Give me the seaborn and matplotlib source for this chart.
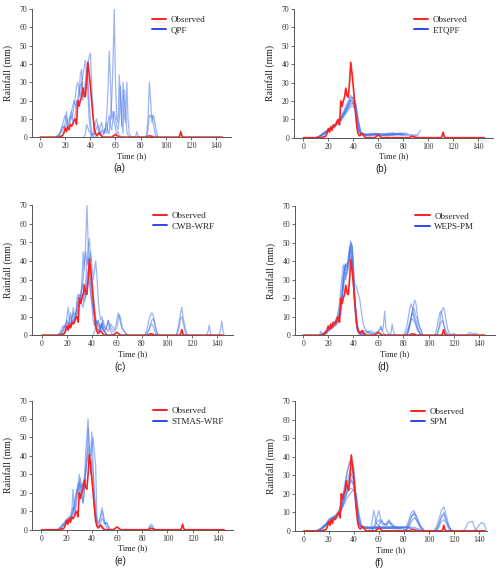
import numpy as np
import pandas as pd
import matplotlib
matplotlib.use('Agg')
import matplotlib.pyplot as plt
from matplotlib.lines import Line2D
import seaborn as sns

# ---- observed hourly rainfall (mm); zero outside these segments ----
obs_hours = np.arange(0, 146)
obs_segments = [
    (15, [0, 0.5, 0.5, 1, 2.5, 5, 3, 6, 4, 7, 6, 7, 9, 10, 7, 20, 17, 20, 22, 27,
          23, 22, 30, 41, 35, 28, 20, 12, 5, 2, 1, 1.5, 2.5, 1.5, 0.5, 0]),
    (57, [0, 0.5, 1, 1.5, 1, 0.5, 0]),
    (85, [0, 0.5, 0.8, 0.5, 0.5, 0]),
    (111, [0.5, 3, 0.5]),
]

# ---- forecast members: (start hour, values every STEP hours) ----
QPF_STEP = 1
QPF = [
    (13, [0, 0.5, 1, 2, 4, 6, 5, 8, 14, 6, 7, 9, 14, 8, 10, 12, 20, 18, 22, 35, 37, 20, 24, 28,
          33, 40, 44, 46, 30, 14, 5, 2, 1, 0]),
    (12, [0, 0.5, 1, 2, 3, 5, 7, 10, 12, 9, 7, 8, 11, 10, 13, 17, 22, 28, 30, 26, 22, 28, 34,
          38, 42, 36, 24, 10, 4, 1, 0]),
    (14, [0, 1, 2, 3, 4, 6, 5, 7, 9, 10, 12, 14, 17, 20, 18, 16, 21, 25, 28, 30, 26, 22, 30,
          38, 32, 20, 9, 3, 1, 0]),
    (35, [0, 2, 7, 5, 3, 2, 1, 2, 4, 8, 10, 5, 3, 6, 8, 4, 2, 5, 12, 25, 47, 30, 10, 14, 8, 5,
          2, 3, 1, 0.5, 0]),
    (40, [0, 1, 2, 1, 3, 5, 7, 3, 2, 4, 3, 2, 5, 8, 3, 2, 10, 20, 40, 70, 30, 10, 8, 34, 20, 6,
          30, 12, 8, 30, 10, 2, 0.5, 0]),
    (44, [0, 1, 2, 1, 3, 2, 1, 3, 5, 2, 8, 12, 6, 4, 10, 14, 10, 6, 4, 10, 28, 8, 2, 26, 15, 3,
          1, 0]),
    (74, [0, 0, 0, 3, 0.5, 0, 0, 0, 0, 0, 0, 2, 12, 30, 20, 8, 12, 10, 5, 2, 0]),
    (84, [0, 1, 5, 12, 11, 12, 8, 4, 1, 0]),
]

ETQPF_STEP = 2
ETQPF = [
    (10, [0, 0.3, 1, 2, 3, 4, 5, 6, 7, 9, 11, 14, 17, 20, 23, 21, 14, 4, 2, 1.5, 1.5, 1.5, 2, 2,
          2.5, 2, 1.5, 1.5, 1.5, 2, 2, 2.5, 2, 2, 1.5, 1.5]),
    (10, [0, 0.5, 1.5, 2.5, 3.5, 4.5, 5, 6, 7, 8, 10, 12, 15, 18, 20, 20, 16, 6, 2.5, 2, 1.5,
          1.5, 1.5, 2, 2, 2, 1.5, 1.5, 1.5, 1.5, 2, 2, 2, 2.5, 2.5, 2, 2]),
    (10, [0, 0.2, 0.8, 1.5, 2.5, 3.5, 4.5, 5.5, 6.5, 8, 9.5, 12, 14, 16, 18, 19, 18, 10, 3, 2,
          1.5, 1.5, 1.5, 1.5, 2, 2, 2, 1.5, 1, 1, 1.5, 1.5, 2, 2, 2, 1.5, 1.5, 1.5, 1.5, 1.5,
          1.5, 2, 4]),
    (10, [0, 0.4, 1.2, 2, 3, 4, 5, 6, 7.5, 9, 11, 13, 16, 19, 22, 21, 17, 8, 3, 2, 1.5, 1, 1,
          1.5, 1.5, 2, 2, 2, 2, 2, 1.5, 1.5, 1.5, 2, 2, 2.5, 2.5, 2]),
    (10, [0, 0.3, 1, 2, 3, 4, 4.5, 5.5, 7, 8.5, 10, 12, 14, 17, 19, 18, 15, 6, 2, 1.5, 1.5, 1.5,
          2, 2, 1.5, 1.5, 1.5, 1.5, 1.5, 1.5, 1.5, 2, 2, 2, 2]),
    (10, [0, 0.5, 1.5, 2.5, 3.5, 4.5, 5.5, 6.5, 8, 9.5, 11, 13, 15, 18, 21, 22, 19, 9, 3, 2, 2,
          1.5, 1.5, 1.5, 1.5, 2, 1.5, 1.5, 1.5, 1.5, 1.5, 1.5, 1.5, 1.5, 1.5, 1.5, 1.5, 1.5,
          1.5, 1, 1, 1]),
    (10, [0, 0.2, 1, 2, 3, 4, 5, 6, 7, 8, 9, 11, 13, 15, 17, 17, 15, 5, 2, 1.5, 1.5, 2, 2, 2,
          2, 2, 2, 2, 2, 2, 2, 2, 2, 2]),
    (10, [0, 0.4, 1.2, 2.2, 3.2, 4.2, 5.2, 6.2, 7.5, 9, 10.5, 12.5, 15, 17.5, 20.5, 19, 13, 5,
          2.5, 2, 2, 2, 2, 2, 1.5, 1.5, 1.5, 1.5, 2, 2.5, 2.5, 2.5, 2, 2, 2, 2]),
]

CWB_STEP = 1
CWB = [
    (12, [0, 0.5, 1, 2, 4, 5, 4, 6, 10, 15, 8, 6, 9, 12, 8, 10, 20, 22, 18, 20, 30, 45, 35, 50,
          70, 50, 35, 25, 15, 8, 5, 8, 5, 3, 2, 4, 6, 3, 2, 1, 0]),
    (14, [0, 1, 2, 3, 5, 4, 7, 6, 9, 12, 8, 15, 10, 12, 15, 20, 22, 21, 25, 30, 40, 45, 38, 48,
          52, 40, 30, 22, 15, 10, 6, 8, 5, 3, 5, 4, 2, 1, 0]),
    (13, [0, 0.5, 1, 2, 3, 5, 6, 8, 5, 7, 10, 8, 6, 9, 12, 15, 18, 20, 22, 25, 28, 24, 20, 30,
          35, 40, 45, 38, 30, 35, 40, 32, 20, 12, 8, 10, 6, 4, 3, 5, 8, 4, 2, 1, 0]),
    (15, [0, 1, 2, 3, 4, 5, 3, 5, 6, 8, 7, 9, 10, 12, 15, 17, 20, 22, 20, 18, 22, 25, 30, 28,
          22, 18, 14, 10, 8, 6, 5, 4, 6, 5, 3, 2, 1, 0]),
    (16, [0, 0.5, 1, 2, 3, 2, 4, 5, 7, 6, 8, 9, 11, 14, 18, 20, 16, 15, 22, 28, 38, 42, 35, 28,
          22, 15, 10, 5, 3, 2, 3, 5, 4, 3, 2, 1, 0]),
    (41, [0, 2, 4, 6, 8, 5, 3, 6, 8, 5, 4, 3, 2, 4, 6, 5, 4, 3, 5, 8, 12, 10, 6, 4, 3, 2, 1,
          0.5, 0]),
    (44, [0, 1, 3, 5, 7, 4, 2, 3, 5, 8, 6, 4, 3, 2, 2, 3, 4, 8, 11, 9, 5, 3, 2, 1, 0.5, 0]),
    (82, [0, 1, 3, 6, 9, 11, 12, 11, 8, 4, 1, 0]),
    (83, [0, 1, 2, 4, 6, 8, 9, 7, 4, 2, 0.5, 0]),
    (84, [0, 2, 3, 5, 6, 5, 3, 1, 0]),
    (107, [0, 1, 4, 8, 12, 15, 10, 6, 3, 1, 0]),
    (108, [0, 2, 5, 9, 10, 7, 4, 1, 0]),
    (132, [0, 2, 5.5, 1, 0]),
    (142, [0, 3, 7.5, 2, 0]),
]

WEPS_STEP = 1
WEPS = [
    (14, [0, 0.5, 1, 1.5, 2, 1, 2, 3, 3.5, 4, 5, 5, 6, 7, 8, 10, 14, 20, 28, 36, 38, 37, 40,
          46, 51, 44, 30, 18, 8, 3, 1.5, 1, 0.5, 0]),
    (16, [0, 0.5, 1, 2, 2.5, 3, 3.5, 4, 5, 6, 6, 7, 9, 12, 16, 22, 30, 38, 35, 36, 40, 45, 50,
          48, 35, 22, 12, 5, 2, 1, 0.5, 0]),
    (15, [0, 1, 1, 2, 3, 4, 4, 5, 6, 6, 7, 8, 10, 13, 18, 25, 32, 38, 36, 30, 36, 42, 48, 45,
          38, 30, 28, 27, 25, 22, 20, 15, 10, 6, 4, 3, 2, 2, 1.5, 1, 0.5, 0]),
    (14, [0, 0.5, 1, 1.5, 2, 3, 3, 4, 4, 5, 5, 6, 7, 8, 10, 12, 16, 22, 30, 36, 39, 38, 40, 45,
          50, 49, 40, 25, 10, 4, 2, 1, 0]),
    (15, [0, 0.5, 1, 2, 3, 3.5, 4, 5, 5.5, 6, 7, 8, 9, 11, 14, 18, 24, 32, 34, 33, 35, 38, 42,
          46, 44, 30, 15, 12, 6, 3, 2, 1.5, 1, 0]),
    (13, [0, 2, 0.5, 0.5, 1, 1.5, 2, 2.5, 3, 3, 4, 4, 5, 5, 6, 7, 9, 12, 18, 25, 30, 32, 33,
          36, 40, 43, 41, 32, 20, 8, 3, 2, 1.5, 1, 1, 0.5, 0]),
    (16, [0, 1, 1, 2, 3, 3, 4, 4, 5, 6, 6, 7, 8, 10, 14, 20, 27, 33, 38, 37, 39, 43, 47, 48,
          38, 22, 12, 5, 3, 2, 1.5, 1, 0.5, 0]),
    (44, [0, 1, 1.5, 2, 1.5, 1, 1, 1.5, 2, 1.5, 1, 1, 0.5, 1, 1.5, 2, 2, 3, 4, 2, 5, 13, 4, 2,
          1, 0.5, 1, 6, 2, 0.5, 0]),
    (46, [0, 1, 2, 2.5, 2, 1.5, 1, 2, 2.5, 2, 1.5, 1, 1, 1, 2, 3, 5, 3, 1, 0.5, 0]),
    (80, [0, 1, 3, 6, 10, 14, 17, 15, 12, 8, 6, 4, 2, 1, 0]),
    (83, [0, 2, 5, 9, 13, 16, 19, 17, 11, 7, 4, 3, 1, 0]),
    (82, [0, 1, 4, 7, 10, 12, 11, 9, 8, 5, 3, 1, 0]),
    (81, [0, 1, 2, 4, 6, 8, 9, 8, 7, 5, 3, 2, 1, 0]),
    (83, [0, 2, 5, 8, 12, 15, 13, 10, 9, 6, 4, 2, 0]),
    (106, [0, 1, 3, 7, 12, 14, 15, 12, 8, 4, 2, 1, 0]),
    (105, [0, 2, 5, 9, 12, 13, 10, 6, 3, 1, 0]),
    (106, [0, 1, 3, 5, 7, 8, 6, 4, 2, 1, 0]),
    (118, [0, 0.5, 1, 0.5, 0]),
    (130, [0, 0.5, 1, 1.5, 1, 1, 0.5, 1, 1, 0.5, 0]),
]

STMAS_STEP = 1
STMAS = [
    (12, [0, 0.5, 1, 1.5, 2, 3, 4, 5, 4, 6, 5, 7, 8, 22, 12, 10, 15, 24, 30, 20, 25, 22, 28,
          40, 50, 60, 45, 40, 53, 35, 20, 10, 6, 4, 5, 8, 12, 9, 5, 3, 4, 2, 1, 0.5, 0]),
    (13, [0, 0.5, 1, 2, 2.5, 3, 4, 6, 4, 5, 6, 8, 10, 14, 18, 22, 20, 23, 28, 18, 15, 22, 30,
          40, 55, 42, 35, 45, 50, 42, 35, 6, 3, 4, 6, 10, 7, 4, 2, 1, 0.5, 0]),
    (14, [0, 1, 2, 3, 2, 3, 5, 6, 7, 5, 6, 9, 12, 17, 20, 25, 22, 18, 20, 14, 20, 32, 38, 45,
          40, 30, 38, 30, 18, 8, 4, 2, 3, 4, 6, 5, 3, 4, 3, 1, 0]),
    (14, [0, 0.5, 1, 2, 3, 4, 5, 4, 6, 8, 10, 12, 8, 14, 18, 22, 26, 24, 22, 26, 25, 30, 36,
          40, 38, 32, 28, 20, 12, 5, 2, 1, 2, 3, 2, 1, 0.5, 0]),
    (84, [0, 1, 2, 3, 2.5, 1, 0]),
    (85, [0, 1.5, 2, 1, 0]),
]

SPM_STEP = 2
SPM = [
    (10, [0, 0.5, 1, 2, 3, 5, 6, 7, 8, 10, 14, 20, 28, 36, 40, 32, 14, 4, 2, 2, 1.5, 1.5, 1.5,
          2, 2, 1.5, 1.5, 1.5, 1.5, 1.5, 1.5, 2, 2, 2, 2, 2, 2, 2, 2, 2, 1.5, 1, 0.5]),
    (10, [0, 0.5, 1.5, 2.5, 4, 6, 7, 7.5, 8.5, 10, 13, 17, 22, 25, 27, 24, 12, 4, 2, 2, 2, 2,
          1.5, 1.5, 1.5, 1.5, 1.5, 2, 2, 2, 2, 2, 1.5, 1.5, 1.5, 1.5]),
    (10, [0, 0.3, 1, 2, 3.5, 5, 6, 7, 8, 9, 12, 16, 20, 22, 23, 22, 18, 8, 3, 2, 1.5, 1.5, 1.5,
          1.5, 2, 2, 2, 1.5, 1.5, 1.5, 1.5, 1.5, 1.5, 1.5, 2, 2, 2, 1.5, 1]),
    (10, [0, 0.5, 1.5, 3, 4, 6, 7, 8, 9, 11, 15, 22, 30, 35, 38, 34, 18, 5, 2, 1.5, 1.5, 1.5,
          2, 2, 2, 2, 2, 2, 1.5, 1.5, 1.5, 1.5, 1.5]),
    (10, [0, 0.5, 1, 2, 3.5, 5, 6, 7, 8, 9, 11, 14, 17, 19, 21, 22, 20, 10, 3, 2, 2, 2, 2, 2,
          2, 2, 1.5, 1.5, 1.5, 1.5, 1.5, 1.5]),
    (10, [0, 0.5, 1, 2, 3, 5, 6, 7, 8, 10, 13, 18, 24, 30, 34, 30, 15, 4, 2, 1.5, 1.5, 1.5,
          1.5, 1.5, 1.5, 1.5, 1.5, 2, 2, 2, 2, 2, 2, 2, 2, 2, 2, 1.5, 1.5, 1, 1, 0.5]),
    (10, [0, 0.5, 1.5, 2.5, 3.5, 5, 7, 6, 8, 9.5, 12, 16, 21, 27, 31, 27, 12, 4, 2.5, 2, 2, 2,
          1.5, 1.5, 1.5, 1.5, 1.5, 1.5, 1.5, 1.5]),
    (10, [0, 0.5, 1, 2, 3, 4.5, 6, 7, 8, 9, 11, 15, 19, 24, 28, 25, 16, 6, 2, 1.5, 1.5, 1.5,
          1.5, 1.5, 2, 2, 2, 2, 2, 2, 2, 2, 2, 2]),
    (52, [0, 2, 11, 4, 3, 2, 1.5, 2, 1.5, 1.5, 1, 1, 1.5, 1.5, 1, 0.5]),
    (54, [0, 2, 6, 11, 5, 4, 3, 5, 3, 2, 2, 1.5, 1.5, 2, 2, 2]),
    (54, [0, 1.5, 4, 6, 4, 3, 4, 6, 4, 2, 1.5, 1, 1]),
    (58, [0, 3, 6, 4, 3, 5, 4, 3, 2, 2, 2]),
    (80, [0, 2, 6, 10, 11, 8, 4, 2, 0.5]),
    (80, [0, 1, 4, 8, 9, 6, 3, 1, 0]),
    (82, [0, 2, 5, 7, 6, 4, 2, 0.5]),
    (82, [0, 3, 7, 10, 8, 5, 1.5, 0]),
    (104, [0, 2, 6, 11, 13, 8, 3, 0.5, 0]),
    (104, [0, 1, 4, 8, 9, 5, 2, 0]),
    (106, [0, 3, 7, 10, 6, 2, 0.5]),
    (106, [0, 2, 5, 6, 4, 1, 0]),
    (127, [0, 1, 4, 5, 5, 1, 0]),
    (136, [0, 1, 3, 4.5, 4, 0.5]),
]

panel_names = ['QPF', 'ETQPF', 'CWB-WRF', 'WEPS-PM', 'STMAS-WRF', 'SPM']
panel_traces = [QPF, ETQPF, CWB, WEPS, STMAS, SPM]
panel_steps = [QPF_STEP, ETQPF_STEP, CWB_STEP, WEPS_STEP, STMAS_STEP, SPM_STEP]
panel_letters = ['(a)', '(b)', '(c)', '(d)', '(e)', '(f)']

RED = '#ff2020'
BLUE = '#4d7ae8'
LEG_BLUE = '#2f45f5'
GREY = '#555555'


def traces_frame(traces, step):
    rows = []
    for k, (start, vals) in enumerate(traces):
        for i, v in enumerate(vals):
            rows.append((k, start + i * step, v))
    return pd.DataFrame(rows, columns=['trace', 'time', 'rain'])


# observed series on the hourly grid
obs = np.zeros(len(obs_hours))
for start, vals in obs_segments:
    obs[start:start + len(vals)] = vals
obs_df = pd.DataFrame({'time': obs_hours, 'rain': obs})

sns.set_style('ticks')
plt.rcParams['font.family'] = ['Liberation Serif', 'DejaVu Serif']

fig = plt.figure(figsize=(5.0, 5.69), dpi=100)

# axes rectangles in figure fractions (left, bottom, width, height)
rects = [
    (0.064, 0.759, 0.398, 0.225),
    (0.588, 0.758, 0.398, 0.226),
    (0.064, 0.411, 0.402, 0.228),
    (0.590, 0.411, 0.400, 0.227),
    (0.064, 0.069, 0.402, 0.227),
    (0.590, 0.067, 0.384, 0.228),
]
xlims = [(-6.5, 152), (-7.5, 152), (-8, 153), (-6.5, 153), (-7.5, 152), (-7, 146.5)]

for idx in range(6):
    ax = fig.add_axes(rects[idx])
    df = traces_frame(panel_traces[idx], panel_steps[idx])
    sns.lineplot(data=df, x='time', y='rain', units='trace', estimator=None,
                 color=BLUE, alpha=0.55, lw=0.9, sort=False, legend=False, ax=ax)
    sns.lineplot(data=obs_df, x='time', y='rain', color=RED, lw=1.2,
                 legend=False, ax=ax)

    ax.set_xlim(*xlims[idx])
    ax.set_ylim(0, 70)
    ax.set_xticks(np.arange(0, 141, 20))
    ax.set_yticks(np.arange(0, 71, 10))
    ax.set_xlabel('Time (h)', fontsize=6, labelpad=1.5, color='#222222')
    ax.set_ylabel('Rainfall (mm)', fontsize=7, labelpad=5, color='#222222')
    ax.tick_params(direction='out', length=2, width=0.6, labelsize=5.5, pad=1.5,
                   colors=GREY, labelcolor='#333333')
    sns.despine(ax=ax)
    for side in ['left', 'bottom']:
        ax.spines[side].set_linewidth(0.7)
        ax.spines[side].set_color(GREY)

    handles = [Line2D([], [], color=RED, lw=1.4), Line2D([], [], color=LEG_BLUE, lw=1.4)]
    ax.legend(handles, ['Observed', panel_names[idx]], loc='upper left',
              bbox_to_anchor=(0.57, 1.0), frameon=False, fontsize=6.5,
              handlelength=1.6, handletextpad=0.5, labelspacing=0.25,
              borderaxespad=0.3)

    ax.text(0.44, -0.245, panel_letters[idx], transform=ax.transAxes, ha='center',
            va='center', fontsize=7, family='Liberation Sans', color='#222222')

fig.savefig('out.png', dpi=100)
